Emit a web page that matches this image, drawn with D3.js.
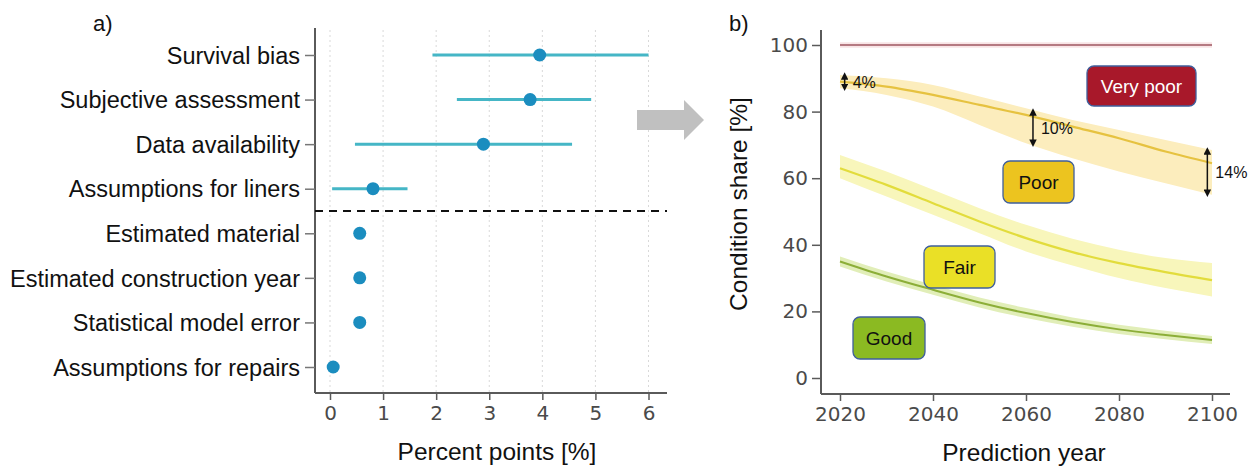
<!DOCTYPE html>
<html><head><meta charset="utf-8">
<script src="https://cdn.jsdelivr.net/npm/d3@7"></script>
<style>
html,body{margin:0;padding:0;background:#fff;}
svg{display:block;}
</style></head>
<body>
<svg id="chart" width="1257" height="468"></svg>
<script>
// ---------- Panel a data ----------
const categories = ["Survival bias","Subjective assessment","Data availability","Assumptions for liners",
  "Estimated material","Estimated construction year","Statistical model error","Assumptions for repairs"];
const estimates = [3.95, 3.77, 2.89, 0.81, 0.56, 0.56, 0.56, 0.06];
const lowerCI   = [1.93, 2.39, 0.47, 0.04, null, null, null, null];
const upperCI   = [6.00, 4.92, 4.56, 1.46, null, null, null, null];
const xTicksA   = [0,1,2,3,4,5,6];

// ---------- Panel b data ----------
const years    = [2020,2030,2040,2050,2060,2070,2080,2090,2100];
const veryPoor = [100,100,100,100,100,100,100,100,100];
const poorMid  = [89,87.5,85,82,79,75.5,72,68,64.5];
const poorHi   = [91,90,88,84.5,81,77.5,74.5,71.5,68.5];
const poorLo   = [87,85,81.5,76,70.5,66,62,58.5,55];
const fairMid  = [63,58,52.5,47,42,37.8,34.5,31.8,29.4];
const fairHi   = [67,62,56.5,51,46,41.8,38.5,36,34.5];
const fairLo   = [60,54.5,49,43.5,38,33.8,30,27,24.5];
const goodMid  = [35,30.5,26.5,22.7,19.5,16.8,14.6,12.9,11.4];
const goodHi   = [36.5,32,28,24.2,21,18.2,16,14.2,12.6];
const goodLo   = [33.5,29,25,21.2,18,15.4,13.2,11.6,10.2];
const xTicksB  = [2020,2040,2060,2080,2100];
const yTicksB  = [0,20,40,60,80,100];
const boxLabels = ["Very poor","Poor","Fair","Good"];
const gapLabels = ["4%","10%","14%"];

const svg = d3.select("#chart");
const sans = "'Liberation Sans', Arial, sans-serif";
const tickFont = "'DejaVu Sans', sans-serif";
const axisCol = "#5a5a5a";

// ================= Panel a =================
const xA = d3.scaleLinear().domain([0,6]).range([330,648.5]);
const yA = d3.scalePoint().domain(categories).range([55,367]);
const gA = svg.append("g");

gA.selectAll("line.grid").data(xTicksA).join("line")
  .attr("x1",d=>xA(d)).attr("x2",d=>xA(d)).attr("y1",30).attr("y2",392)
  .attr("stroke","#d9d9d9").attr("stroke-width",1).attr("stroke-dasharray","2,3");

const axA = d3.axisBottom(xA).tickValues(xTicksA).tickSize(7).tickPadding(6).tickFormat(d3.format("d"));
const gxA = gA.append("g").attr("transform","translate(0,393)").call(axA);
gxA.select(".domain").attr("d","M315,0H667").attr("stroke",axisCol).attr("stroke-width",2);
gxA.selectAll(".tick line").attr("stroke",axisCol).attr("stroke-width",1.5);
gxA.selectAll(".tick text").attr("font-family",tickFont).attr("font-size",20).attr("fill","#4a4a4a");

const ayA = d3.axisLeft(yA).tickSize(10).tickPadding(5);
const gyA = gA.append("g").attr("transform","translate(315,0)").call(ayA);
gyA.select(".domain").attr("d","M0,28V393").attr("stroke",axisCol).attr("stroke-width",2);
gyA.selectAll(".tick line").attr("stroke","#777").attr("stroke-width",1.5);
gyA.selectAll(".tick text").attr("font-family",sans).attr("font-size",23.5).attr("fill","#111").attr("dy","0.35em");

const sepY = (yA(categories[3]) + yA(categories[4]))/2;
gA.append("line").attr("x1",315).attr("x2",667).attr("y1",sepY).attr("y2",sepY)
  .attr("stroke","#111").attr("stroke-width",2).attr("stroke-dasharray","8,6");

const rowsA = categories.map((c,i)=>({c, est:estimates[i], lo:lowerCI[i], hi:upperCI[i]}));
gA.selectAll("line.ci").data(rowsA.filter(d=>d.lo!==null)).join("line")
  .attr("x1",d=>xA(d.lo)).attr("x2",d=>xA(d.hi)).attr("y1",d=>yA(d.c)).attr("y2",d=>yA(d.c))
  .attr("stroke","#45b6c6").attr("stroke-width",3);
gA.selectAll("circle.pt").data(rowsA).join("circle")
  .attr("cx",d=>xA(d.est)).attr("cy",d=>yA(d.c)).attr("r",6.5).attr("fill","#1b8dbf");

gA.append("text").attr("x",497).attr("y",460).attr("text-anchor","middle")
  .attr("font-family",sans).attr("font-size",24.5).attr("fill","#111").text("Percent points [%]");
gA.append("text").attr("x",93).attr("y",31).attr("font-family",sans).attr("font-size",22).attr("fill","#111").text("a)");

svg.append("path").attr("d","M637,110H684V100L704,120L684,140V130H637Z").attr("fill","#c0c0c0");

// ================= Panel b =================
const xB = d3.scaleLinear().domain([2020,2100]).range([840,1212]);
const yB = d3.scaleLinear().domain([0,100]).range([378,45]);
const gB = svg.append("g");

const axB = d3.axisBottom(xB).tickValues(xTicksB).tickSize(7).tickPadding(6).tickFormat(d3.format("d"));
const gxB = gB.append("g").attr("transform","translate(0,394)").call(axB);
gxB.select(".domain").attr("d","M821,0H1230").attr("stroke",axisCol).attr("stroke-width",2);
gxB.selectAll(".tick line").attr("stroke",axisCol).attr("stroke-width",1.5);
gxB.selectAll(".tick text").attr("font-family",tickFont).attr("font-size",20).attr("fill","#4a4a4a");

const ayB = d3.axisLeft(yB).tickValues(yTicksB).tickSize(9).tickPadding(4);
const gyB = gB.append("g").attr("transform","translate(821,0)").call(ayB);
gyB.select(".domain").attr("d","M0,30V394").attr("stroke",axisCol).attr("stroke-width",2);
gyB.selectAll(".tick line").attr("stroke",axisCol).attr("stroke-width",1.5);
gyB.selectAll(".tick text").attr("font-family",tickFont).attr("font-size",20).attr("fill","#4a4a4a");

const area = (lo,hi)=>d3.area().curve(d3.curveMonotoneX)
  .x((d,i)=>xB(years[i])).y0((d,i)=>yB(lo[i])).y1((d,i)=>yB(hi[i]))(years);
const line = (v)=>d3.line().curve(d3.curveMonotoneX).x((d,i)=>xB(years[i])).y((d,i)=>yB(v[i]))(years);

const series = [
  {mid:veryPoor, lo:veryPoor.map(v=>v-0.8), hi:veryPoor.map(v=>v+0.8), band:"#f8e4e6", stroke:"#b57a82", w:2},
  {mid:poorMid, lo:poorLo, hi:poorHi, band:"#fcedbd", stroke:"#e6c240", w:2.2},
  {mid:fairMid, lo:fairLo, hi:fairHi, band:"#f8f6bb", stroke:"#e2dc3c", w:2.2},
  {mid:goodMid, lo:goodLo, hi:goodHi, band:"#e1eeb8", stroke:"#8cae38", w:2},
];
gB.selectAll("path.band").data(series).join("path")
  .attr("d",d=>area(d.lo,d.hi)).attr("fill",d=>d.band);
gB.selectAll("path.mid").data(series).join("path")
  .attr("d",d=>line(d.mid)).attr("fill","none").attr("stroke",d=>d.stroke).attr("stroke-width",d=>d.w);

const defs = svg.append("defs");
defs.append("marker").attr("id","ah").attr("viewBox","0 0 10 10").attr("refX",5).attr("refY",5)
  .attr("markerWidth",5).attr("markerHeight",5).attr("orient","auto-start-reverse")
  .append("path").attr("d","M0,0L10,5L0,10Z").attr("fill","#111");
const gapYears = [2021, 2061.5, 2099];
const gapHi = [91, 80.2, 68.5];
const gapLo = [87, 70.2, 55.2];
gapLabels.forEach((t,i)=>{
  const x = xB(gapYears[i]);
  gB.append("line").attr("x1",x).attr("x2",x).attr("y1",yB(gapHi[i])+1).attr("y2",yB(gapLo[i])-1)
    .attr("stroke","#111").attr("stroke-width",1.5)
    .attr("marker-start","url(#ah)").attr("marker-end","url(#ah)");
  gB.append("text").attr("x",x+8).attr("y",(yB(gapHi[i])+yB(gapLo[i]))/2 + 6)
    .attr("font-family",sans).attr("font-size",16).attr("fill","#111").text(t);
});

const boxCfg = [
  {cx:1141.5, cy:86,  w:109, h:40, fill:"#a8182a", tc:"#ffffff"},
  {cx:1038.5, cy:182, w:71,  h:42, fill:"#ecc41f", tc:"#111"},
  {cx:959.5,  cy:267, w:71,  h:42, fill:"#eae026", tc:"#111"},
  {cx:889,    cy:338, w:72,  h:42, fill:"#8bba22", tc:"#111"},
];
boxLabels.forEach((t,i)=>{
  const b = boxCfg[i];
  gB.append("rect").attr("x",b.cx-b.w/2).attr("y",b.cy-b.h/2).attr("width",b.w).attr("height",b.h)
    .attr("rx",7).attr("fill",b.fill).attr("stroke","#3f5f9c").attr("stroke-width",1.3);
  gB.append("text").attr("x",b.cx).attr("y",b.cy+7).attr("text-anchor","middle")
    .attr("font-family",sans).attr("font-size",19).attr("fill",b.tc).text(t);
});

gB.append("text").attr("transform","translate(747,204) rotate(-90)").attr("text-anchor","middle")
  .attr("font-family",sans).attr("font-size",24.5).attr("fill","#111").text("Condition share [%]");
gB.append("text").attr("x",1024).attr("y",461).attr("text-anchor","middle")
  .attr("font-family",sans).attr("font-size",24.5).attr("fill","#111").text("Prediction year");
gB.append("text").attr("x",729).attr("y",31).attr("font-family",sans).attr("font-size",22).attr("fill","#111").text("b)");
</script>
</body></html>
